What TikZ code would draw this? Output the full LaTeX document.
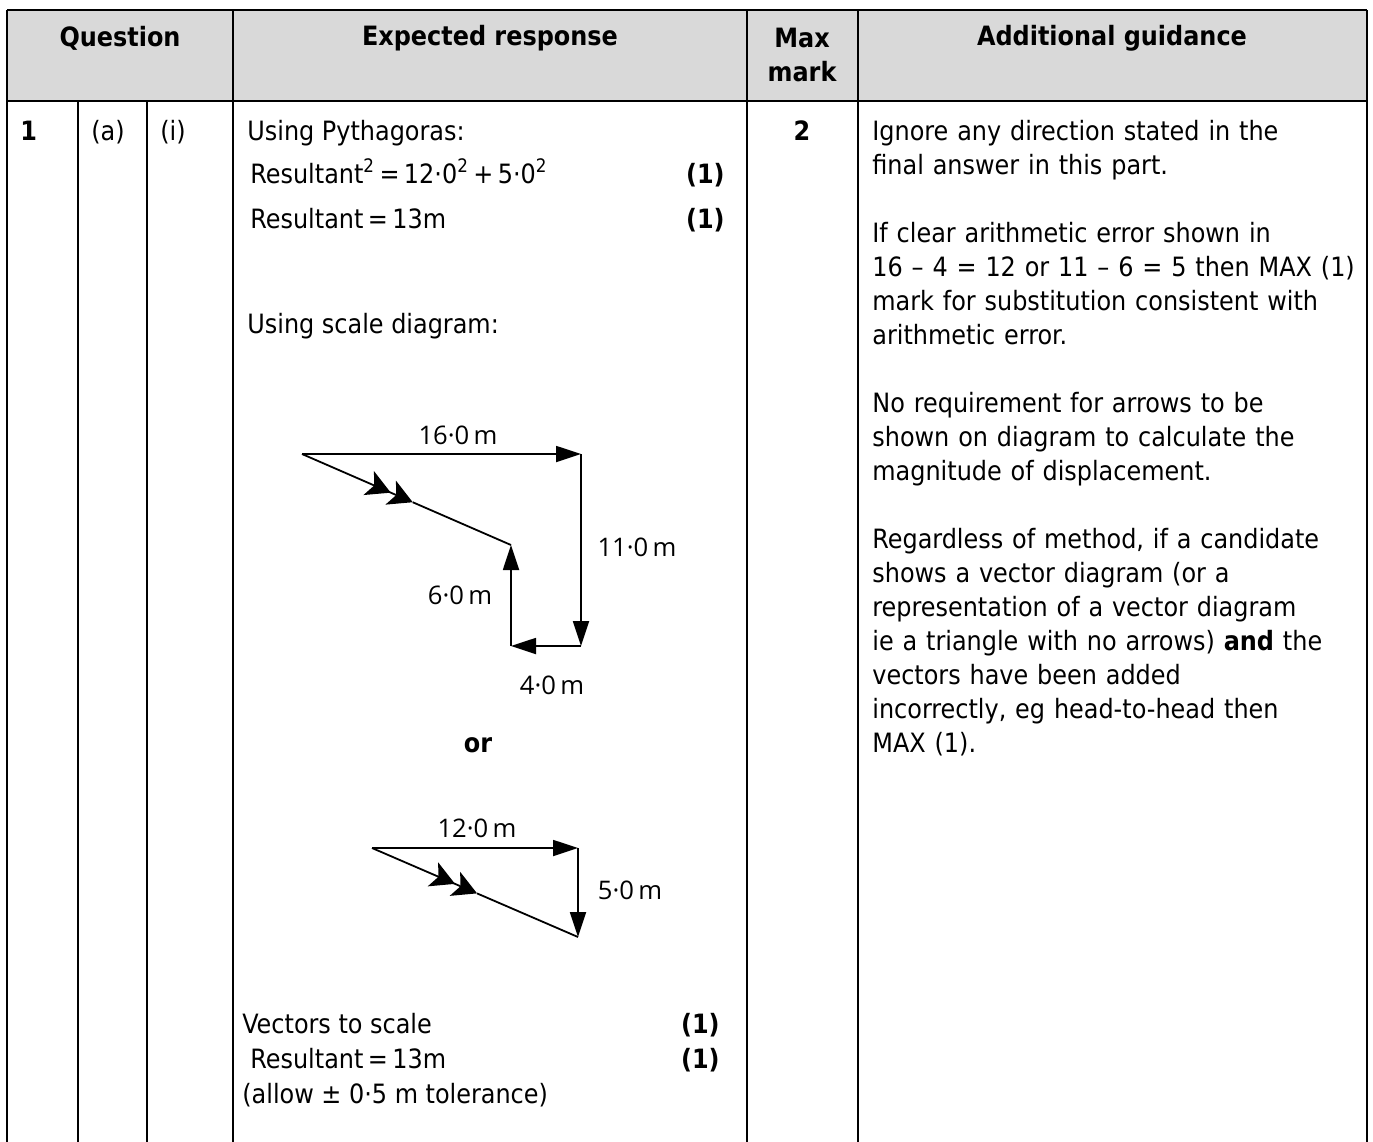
\documentclass[tikz,border=0pt]{standalone}
\usepackage{fontspec}
\setmainfont{DejaVu Sans Condensed}
\newfontfamily\figfont{Open Sans}
\usetikzlibrary{arrows.meta,calc}
\definecolor{headgray}{HTML}{D9D9D9}

\begin{document}
\begin{tikzpicture}[x=0.5pt,y=-0.5pt,
  rule/.style={line width=1.15pt},
  body/.style={anchor=base west,inner sep=0pt,align=left,text width=262pt,font=\fontsize{13.3}{17}\selectfont},
  cell/.style={anchor=base west,inner sep=0pt,font=\fontsize{13.3}{17}\selectfont},
  head/.style={inner sep=0pt,align=center,font=\fontsize{13.3}{17}\selectfont\bfseries},
  markbox/.style={anchor=base east,inner sep=0pt,font=\fontsize{13.3}{17}\selectfont\bfseries},
  vec/.style={line width=0.9pt,-{Triangle[length=12.5pt,width=8pt]}},
  vecline/.style={line width=0.9pt},
  res/.style={line width=0.9pt,-{Stealth[length=12pt,width=13pt,inset=3pt]Stealth[length=12pt,width=13pt,inset=3pt]}},
  dim/.style={inner sep=0pt,font=\figfont\fontsize{12.8}{15}\selectfont}]
\useasboundingbox (0,0) rectangle (1373,1142);

% table
\fill[headgray] (7,10) rectangle (1367,101);
\draw[rule] (7,10) -- (1367,10);
\draw[rule] (7,101) -- (1367,101);
\draw[rule] (7,10) -- (7,1142);
\draw[rule] (78,101) -- (78,1142);
\draw[rule] (147,101) -- (147,1142);
\draw[rule] (233,10) -- (233,1142);
\draw[rule] (747,10) -- (747,1142);
\draw[rule] (858,10) -- (858,1142);
\draw[rule] (1367,10) -- (1367,1142);

\node[head] (hq) at (120,38) {Question};
\node[head] (he) at (490,38) {Expected response};
\node[head] (hm) at (802,55) {Max\\mark};
\node[head] (hg) at (1112,38) {Additional guidance};

% question numbers
\node[cell,font=\fontsize{13.3}{17}\selectfont\bfseries] (q1) at (20,140) {1};
\node[cell] (qa) at (91,140) {(a)};
\node[cell] (qi) at (160,140) {(i)};
\node[cell,anchor=base,font=\fontsize{13.3}{17}\selectfont\bfseries] (mx) at (802,140) {2};

% expected response
\node[cell] (pyth) at (247,140) {Using Pythagoras:};
\node[cell] (eq1) at (250,183) {Resultant\textsuperscript{2}\,=\,12·0\textsuperscript{2}\,+\,5·0\textsuperscript{2}};
\node[markbox] (m1) at (725,183) {(1)};
\node[cell] (eq2) at (250,228) {Resultant\,=\,13m};
\node[markbox] (m2) at (725,228) {(1)};
\node[cell] (scl) at (247,333) {Using scale diagram:};

% first scale diagram
\coordinate (a1) at (302,454);
\coordinate (b1) at (581,454);
\coordinate (c1) at (581,646);
\coordinate (d1) at (511,646);
\coordinate (e1) at (511,545);
\coordinate (r1) at ($(a1)!0.53!(e1)$);
\draw[vec] (a1) -- (b1);
\draw[vec] (b1) -- (c1);
\draw[vec] (c1) -- (d1);
\draw[vec] (d1) -- (e1);
\draw[res] (a1) -- (r1);
\draw[vecline] (r1) -- (e1);
\node[dim] (l16) at (458,435) {16·0\,m};
\node[dim] (l11) at (637,547) {11·0\,m};
\node[dim] (l6) at (460,595) {6·0\,m};
\node[dim] (l4) at (552,685) {4·0\,m};

\node[head] (or) at (478,745) {or};

% second scale diagram
\coordinate (a2) at (372,848);
\coordinate (b2) at (578,848);
\coordinate (c2) at (578,937);
\coordinate (r2) at ($(a2)!0.51!(c2)$);
\draw[vec] (a2) -- (b2);
\draw[vec] (b2) -- (c2);
\draw[res] (a2) -- (r2);
\draw[vecline] (r2) -- (c2);
\node[dim] (l12) at (477,828) {12·0\,m};
\node[dim] (l5) at (630,890) {5·0\,m};

\node[cell] (vts) at (242,1033) {Vectors to scale};
\node[markbox] (m3) at (720,1033) {(1)};
\node[cell] (eq3) at (250,1068) {Resultant\,=\,13m};
\node[markbox] (m4) at (720,1068) {(1)};
\node[cell] (tol) at (242,1103) {(allow ± 0·5 m tolerance)};

% additional guidance
\node[body] (guide) at (872,140) {Ignore any direction stated in the\\
final answer in this part.\\[17pt]
If clear arithmetic error shown in\\
16 – 4 = 12 or 11 – 6 = 5 then MAX (1)\\
mark for substitution consistent with\\
arithmetic error.\\[17pt]
No requirement for arrows to be\\
shown on diagram to calculate the\\
magnitude of displacement.\\[17pt]
Regardless of method, if a candidate\\
shows a vector diagram (or a\\
representation of a vector diagram\\
ie a triangle with no arrows) \textbf{and} the\\
vectors have been added\\
incorrectly, eg head-to-head then\\
MAX (1).};
\end{tikzpicture}
\end{document}
